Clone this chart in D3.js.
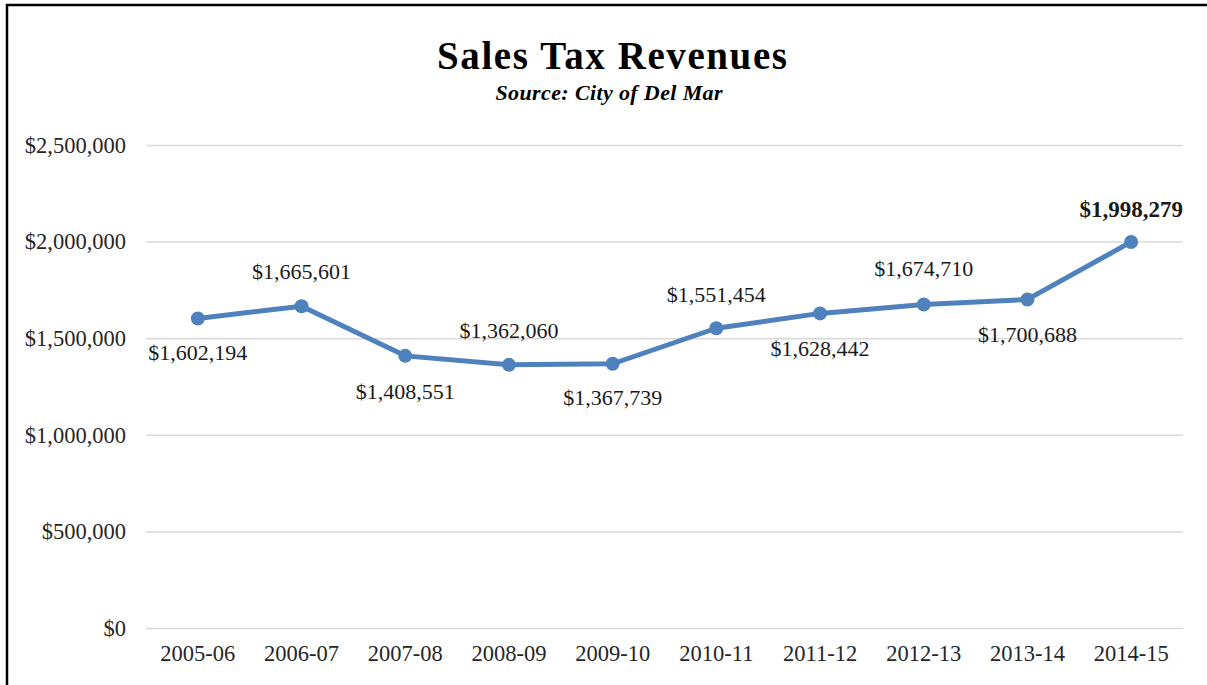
<!DOCTYPE html>
<html>
<head>
<meta charset="utf-8">
<script src="https://cdn.jsdelivr.net/npm/d3@7"></script>
<style>
  body { margin: 0; background: #fff; }
  text { font-family: "Liberation Serif", "DejaVu Serif", serif; }
</style>
</head>
<body>
<div id="chart"></div>
<script>
// data
var years = ["2005-06", "2006-07", "2007-08", "2008-09", "2009-10",
             "2010-11", "2011-12", "2012-13", "2013-14", "2014-15"];
var revenues = [1602194, 1665601, 1408551, 1362060, 1367739,
                1551454, 1628442, 1674710, 1700688, 1998279];
var yTicks = [0, 500000, 1000000, 1500000, 2000000, 2500000];

// where each value label sits relative to its point (above or below, like Excel)
var labelOffsets = [[0, 34], [0, -35], [0, 35], [0, -35], [0, 34],
                    [0, -34], [0, 35], [0, -36], [0, 35], [0, -33]];

var svgWidth = 1207;
var svgHeight = 685;

var margin = { top: 145, bottom: 57, left: 146, right: 24 };
var width = svgWidth - margin.left - margin.right;
var height = svgHeight - margin.top - margin.bottom;

var svg = d3.select("#chart")
    .append("svg")
    .attr("width", svgWidth)
    .attr("height", svgHeight);

// frame around the chart (runs off the right and bottom of the picture)
svg.append("rect")
    .attr("x", 7)
    .attr("y", 5)
    .attr("width", 1400)
    .attr("height", 900)
    .attr("fill", "none")
    .attr("stroke", "#000")
    .attr("stroke-width", 2.5);

// title and source line
svg.append("text")
    .attr("x", 612)
    .attr("y", 69)
    .attr("text-anchor", "middle")
    .style("font-size", "39px")
    .style("font-weight", "bold")
    .attr("textLength", 350)
    .attr("lengthAdjust", "spacing")
    .text("Sales Tax Revenues");

svg.append("text")
    .attr("x", 609)
    .attr("y", 100)
    .attr("text-anchor", "middle")
    .style("font-size", "22px")
    .style("font-weight", "bold")
    .style("font-style", "italic")
    .attr("textLength", 227)
    .attr("lengthAdjust", "spacing")
    .text("Source: City of Del Mar");

var chartGroup = svg.append("g")
    .attr("transform", `translate(${margin.left}, ${margin.top})`);

var xScale = d3.scaleBand()
    .domain(years)
    .range([0, width]);

var yScale = d3.scaleLinear()
    .domain([0, 2500000])
    .range([height, 0]);

// gridlines + y labels
var leftAxis = d3.axisLeft(yScale)
    .tickValues(yTicks)
    .tickSize(-width)
    .tickPadding(20)
    .tickFormat(d => "$" + d3.format(",")(d));

var yAxis = chartGroup.append("g").call(leftAxis);
yAxis.select(".domain").remove();
yAxis.selectAll("line")
    .attr("stroke", "#d9d9d9")
    .attr("stroke-width", 1.5);
yAxis.selectAll("text")
    .attr("fill", "#262626")
    .style("font-size", "22.5px");

// x labels
var bottomAxis = d3.axisBottom(xScale)
    .tickSize(0)
    .tickPadding(17);

var xAxis = chartGroup.append("g")
    .attr("transform", `translate(0, ${height})`)
    .call(bottomAxis);
xAxis.select(".domain").remove();
xAxis.selectAll("text")
    .attr("fill", "#262626")
    .style("font-size", "22.5px");

var cx = d => xScale(d) + xScale.bandwidth() / 2;

var line = d3.line()
    .x((d, i) => cx(years[i]))
    .y(d => yScale(d));

chartGroup.append("path")
    .datum(revenues)
    .attr("d", line)
    .attr("fill", "none")
    .attr("stroke", "#4f81bd")
    .attr("stroke-width", 5)
    .attr("stroke-linejoin", "round");

chartGroup.selectAll("circle")
    .data(revenues)
    .enter()
    .append("circle")
    .attr("cx", (d, i) => cx(years[i]))
    .attr("cy", d => yScale(d))
    .attr("r", 7)
    .attr("fill", "#4f81bd");

// value labels, last one in bold
chartGroup.selectAll(".value-label")
    .data(revenues)
    .enter()
    .append("text")
    .attr("class", "value-label")
    .attr("x", (d, i) => cx(years[i]) + labelOffsets[i][0])
    .attr("y", (d, i) => yScale(d) + labelOffsets[i][1])
    .attr("dy", "0.35em")
    .attr("text-anchor", "middle")
    .attr("fill", "#1a1a1a")
    .style("font-size", (d, i) => i === revenues.length - 1 ? "23px" : "22px")
    .style("font-weight", (d, i) => i === revenues.length - 1 ? "bold" : "normal")
    .text(d => "$" + d3.format(",")(d));
</script>
</body>
</html>
